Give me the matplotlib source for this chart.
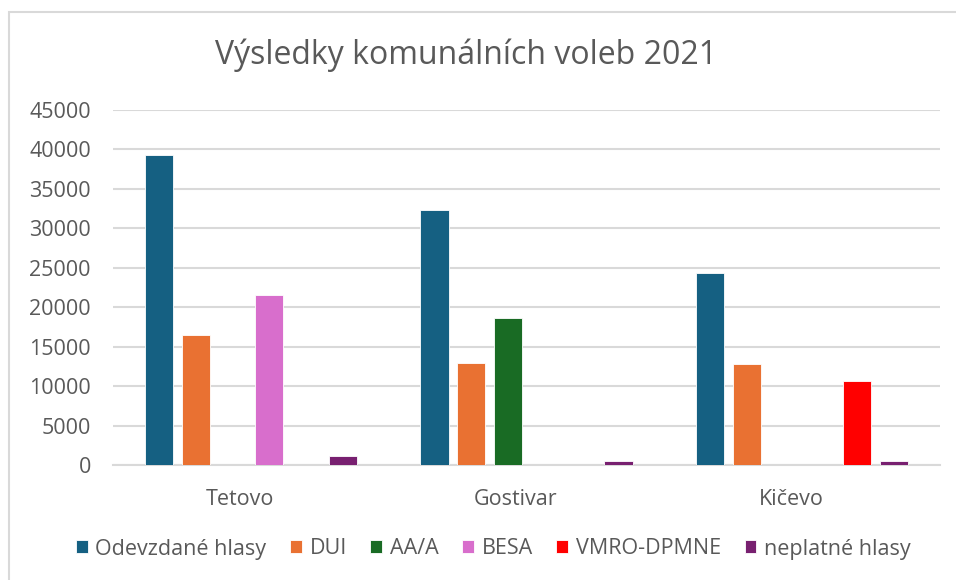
import numpy as np
import matplotlib
matplotlib.use("Agg")
import matplotlib.pyplot as plt
from matplotlib.patches import Rectangle

plt.rcParams['font.family'] = ['Open Sans', 'DejaVu Sans']

# Data
towns = ['Tetovo', 'Gostivar', 'Kičevo']
series = ['Odevzdané hlasy', 'DUI', 'AA/A', 'BESA', 'VMRO-DPMNE', 'neplatné hlasy']
odevzdane = [39300, 32300, 24300]
dui = [16500, 12900, 12750]
aaa = [0, 18600, 0]
besa = [21500, 0, 0]
vmro = [0, 0, 10600]
neplatne = [1100, 550, 550]
values = [odevzdane, dui, aaa, besa, vmro, neplatne]
colors = ['#156082', '#E97132', '#196B24', '#D86ECC', '#FF0000', '#782070']
yticks = list(range(0, 45001, 5000))

text_col = '#595959'
grid_col = '#D9D9D9'

fig = plt.figure(figsize=(9.56, 5.8), dpi=100)
# outer chart border
fig.patches.append(Rectangle((9 / 956, -0.05), 1.1, 1 - 12 / 580 + 0.05,
                             transform=fig.transFigure, fill=False,
                             edgecolor=grid_col, linewidth=1.5))

ax = fig.add_axes([113 / 956, 1 - 465 / 580, (940 - 113) / 956, (465 - 110) / 580])

x = np.arange(len(towns))
slot = 0.1335
width = 0.1016
for j, (name, vals, c) in enumerate(zip(series, values, colors)):
    v = np.array(vals, dtype=float)
    v[v == 0] = np.nan
    ax.bar(x + (j - 2.5) * slot, v, width=width, color=c, label=name,
           edgecolor='white', linewidth=0.6, zorder=3)

ax.set_xlim(-0.5, len(towns) - 0.5)
ax.set_ylim(0, 45000)
ax.set_yticks(yticks)
ax.set_yticklabels([str(t) for t in yticks])
ax.set_xticks(x - 0.04)
ax.set_xticklabels(towns)
ax.tick_params(axis='both', length=0, colors=text_col, labelsize=15.5)
ax.tick_params(axis='y', pad=16)
ax.tick_params(axis='x', pad=17)
ax.grid(axis='y', color=grid_col, linewidth=1.5, zorder=0)
for s in ['top', 'right', 'left']:
    ax.spines[s].set_visible(False)
ax.spines['bottom'].set_color(grid_col)
ax.spines['bottom'].set_linewidth(1.5)

fig.text(466 / 956, 1 - 55 / 580, 'Výsledky komunálních voleb 2021', ha='center', va='center',
         fontsize=23, color=text_col)

leg = fig.legend(loc='center', bbox_to_anchor=(0.516, 1 - 549 / 580), ncol=6, frameon=False,
                 fontsize=15.5, handlelength=0.55, handleheight=0.55, handletextpad=0.35,
                 columnspacing=1.1, labelcolor=text_col)

fig.savefig('out.png', dpi=100)
